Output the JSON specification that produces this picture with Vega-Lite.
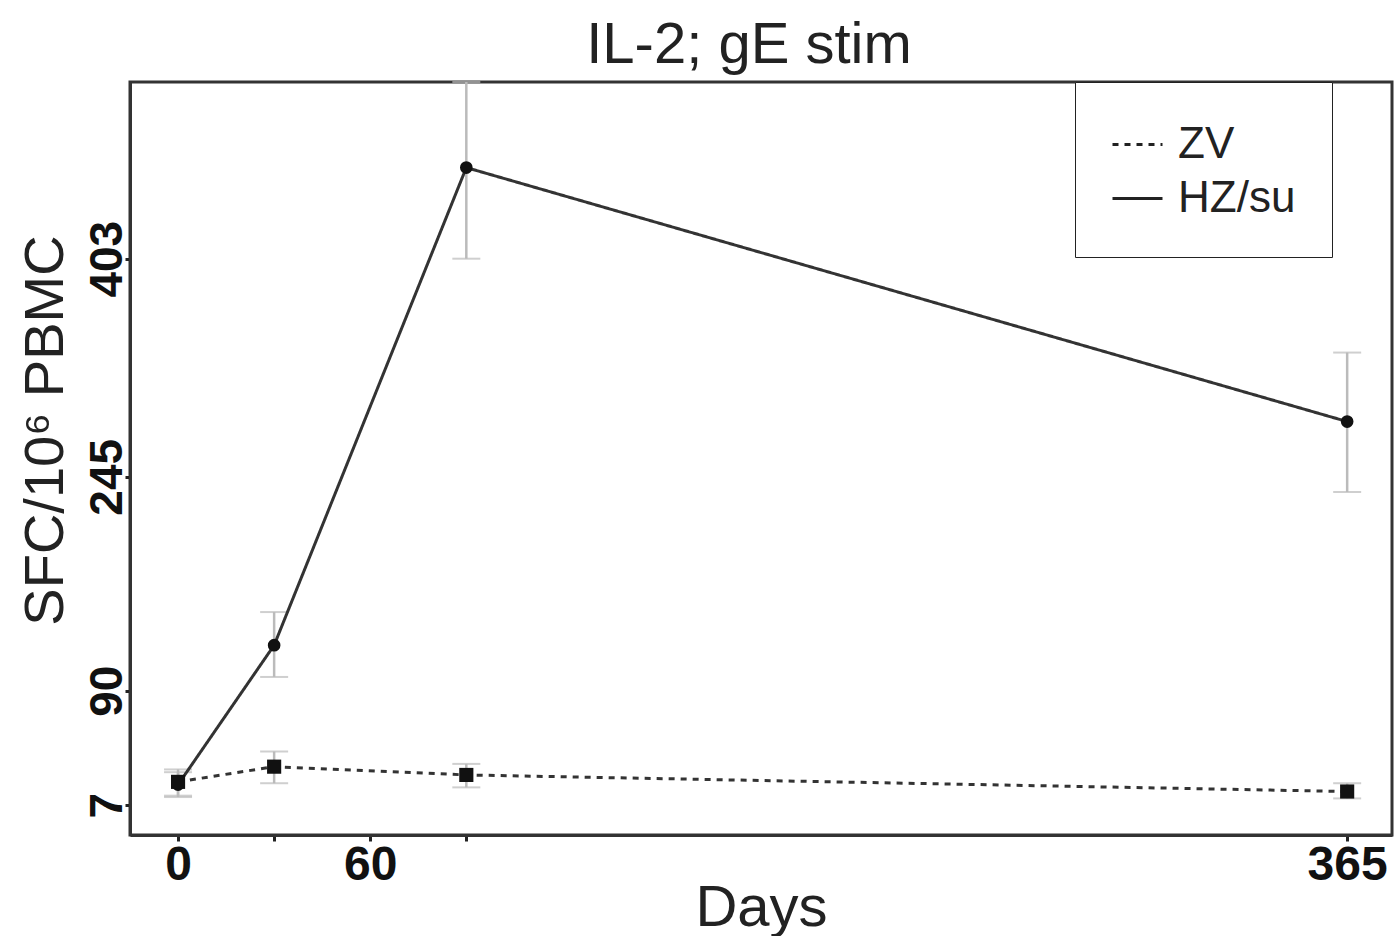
{
  "$schema": "https://vega.github.io/schema/vega-lite/v6.json",
  "width": 1262,
  "height": 753,
  "autosize": "none",
  "padding": {"left": 130, "top": 82, "right": 6, "bottom": 101},
  "background": "white",
  "config": {
    "font": "Liberation Sans",
    "view": {"stroke": "#333", "strokeWidth": 3}
  },
  "title": {"text": "IL-2; gE stim", "fontSize": 58, "fontWeight": "normal", "color": "#222", "offset": 6, "anchor": "middle", "dx": -12, "font": "Liberation Sans"},
  "data": {
    "values": [
      {"group": "ZV", "day": 0, "mean": 24, "lo": 13, "hi": 33},
      {"group": "ZV", "day": 30, "mean": 35, "lo": 23, "hi": 46},
      {"group": "ZV", "day": 90, "mean": 29, "lo": 20, "hi": 37},
      {"group": "ZV", "day": 365, "mean": 17, "lo": 12, "hi": 23},
      {"group": "HZ/su", "day": 0, "mean": 22, "lo": 14, "hi": 31},
      {"group": "HZ/su", "day": 30, "mean": 123, "lo": 100, "hi": 147},
      {"group": "HZ/su", "day": 90, "mean": 469, "lo": 403, "hi": 531},
      {"group": "HZ/su", "day": 365, "mean": 285, "lo": 234, "hi": 335}
    ]
  },
  "encoding": {
    "x": {
      "field": "day", "type": "quantitative",
      "scale": {"domain": [-15, 379], "nice": false, "zero": false},
      "axis": {
        "values": [0, 30, 60, 90, 365],
        "labelExpr": "datum.value == 30 || datum.value == 90 ? '' : datum.label",
        "title": "Days", "titleFontSize": 58, "titleFontWeight": "normal", "titleColor": "#222", "titlePadding": -10,
        "labelFontSize": 48, "labelFontWeight": "bold", "labelColor": "#111", "labelPadding": 0,
        "tickSize": 6, "tickWidth": 3, "tickColor": "#222",
        "domainColor": "#333", "domainWidth": 3, "grid": false, "labelFlush": false, "labelOverlap": false
      }
    }
  },
  "layer": [
    {
      "mark": {"type": "rule", "color": "#bbbbbb", "strokeWidth": 2.5},
      "encoding": {
        "y": {
          "field": "lo", "type": "quantitative",
          "scale": {"domain": [-14.5, 531], "nice": false, "zero": false},
          "title": "SFC/10⁶ PBMC",
          "axis": {
            "values": [7, 90, 245, 403],
            "labelAngle": 270, "labelFontSize": 46, "labelFontWeight": "bold", "labelColor": "#111", "labelPadding": -6,
            "tickSize": 5, "tickWidth": 3, "tickColor": "#222",
            "domainColor": "#333", "domainWidth": 3, "grid": false,
            "titleFontSize": 56, "titleFontWeight": "normal", "titleColor": "#222",
            "titleAngle": 270, "titleX": -85, "titleY": 348, "titleAlign": "center", "titleBaseline": "middle",
            "labelOverlap": false, "labelFlush": false
          }
        },
        "y2": {"field": "hi"}
      }
    },
    {
      "mark": {"type": "tick", "orient": "horizontal", "color": "#bbbbbb", "size": 28, "thickness": 2},
      "encoding": {"y": {"field": "lo", "type": "quantitative", "title": "SFC/10⁶ PBMC"}}
    },
    {
      "mark": {"type": "tick", "orient": "horizontal", "color": "#bbbbbb", "size": 28, "thickness": 2},
      "encoding": {"y": {"field": "hi", "type": "quantitative", "title": "SFC/10⁶ PBMC"}}
    },
    {
      "mark": {"type": "line", "color": "#333333", "strokeWidth": 3},
      "encoding": {
        "y": {"field": "mean", "type": "quantitative", "title": "SFC/10⁶ PBMC"},
        "strokeDash": {
          "field": "group", "type": "nominal",
          "scale": {"domain": ["ZV", "HZ/su"], "range": [[6, 6], [1, 0]]},
          "legend": {
            "orient": "none", "legendX": 945, "legendY": 0, "title": null,
            "labelFontSize": 44, "labelColor": "#222", "labelFont": "Liberation Sans",
            "symbolSize": 2500, "symbolStrokeWidth": 3, "symbolStrokeColor": "#222",
            "labelOffset": 14, "padding": 36, "rowPadding": 5,
            "strokeColor": "#222", "fillColor": "white"
          }
        }
      }
    },
    {
      "transform": [{"filter": "datum.group === 'HZ/su'"}],
      "mark": {"type": "point", "filled": true, "opacity": 1, "shape": "circle", "size": 160, "color": "#111111"},
      "encoding": {"y": {"field": "mean", "type": "quantitative", "title": "SFC/10⁶ PBMC"}}
    },
    {
      "transform": [{"filter": "datum.group === 'ZV'"}],
      "mark": {"type": "point", "filled": true, "opacity": 1, "shape": "square", "size": 200, "color": "#111111"},
      "encoding": {"y": {"field": "mean", "type": "quantitative", "title": "SFC/10⁶ PBMC"}}
    }
  ]
}
